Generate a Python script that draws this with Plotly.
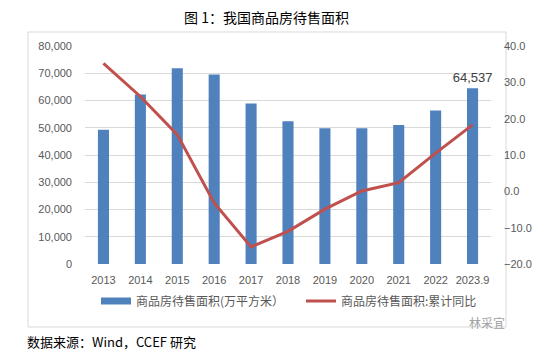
import plotly.graph_objects as go

years = ["2013", "2014", "2015", "2016", "2017", "2018", "2019", "2020", "2021", "2022", "2023.9"]
area = [49295, 62169, 71853, 69539, 58923, 52414, 49821, 49850, 51023, 56366, 64537]
yoy = [35.2, 26.1, 15.6, -3.2, -15.3, -11.0, -4.9, 0.1, 2.4, 10.5, 18.3]

# page body has an 8px margin; work in target (screen) pixels and shift
OFF = 8
W, H = 558 - 2 * OFF, 361 - 2 * OFF
PL, PR, PT, PB = 85, 491, 46, 264  # plot area in screen pixels
L, T = PL - OFF, PT - OFF
R, B = W - (PR - OFF), H - (PB - OFF)
pw, ph = PR - PL, PB - PT

def px(x):
    return (x - PL) / pw

def py(y):
    return (PB - y) / ph

def cx(x):
    return (x - OFF) / W

def cy(y):
    return 1 - (y - OFF) / H

FONT = "Noto Sans CJK SC, Noto Sans, sans-serif"
TICK = dict(family="Liberation Sans, Arial, sans-serif", size=11, color="#595959")

bar_text = ["" for _ in area[:-1]] + [f"{area[-1]:,}"]

fig = go.Figure()
fig.add_trace(go.Bar(
    x=years, y=area, name="商品房待售面积(万平方米）", showlegend=False,
    marker=dict(color="#4F81BD", line=dict(width=0)),
    text=bar_text, textposition="outside", cliponaxis=False, constraintext="none",
    textfont=dict(family="Liberation Sans, Arial, sans-serif", size=13, color="#404040"),
))
fig.add_trace(go.Scatter(
    x=[None], y=[None], name="商品房待售面积(万平方米）",
    mode="lines", line=dict(color="#4F81BD", width=7),
))
fig.add_trace(go.Scatter(
    x=years, y=yoy, name="商品房待售面积:累计同比", yaxis="y2",
    mode="lines", line=dict(color="#C0504D", width=3),
))

fig.update_layout(
    width=W, height=H,
    margin=dict(l=L, r=R, t=T, b=B, pad=0, autoexpand=False),
    paper_bgcolor="white", plot_bgcolor="white",
    bargap=0.7,
    showlegend=True,
    legend=dict(orientation="h", xref="container", yref="container",
                x=cx(96), xanchor="left", y=cy(301), yanchor="middle",
                font=dict(family=FONT, size=12, color="#595959"),
                entrywidth=160, itemwidth=30, bgcolor="rgba(0,0,0,0)", tracegroupgap=0),
    xaxis=dict(type="category", showgrid=False, showline=False, ticks="",
               tickfont=TICK, ticklabelstandoff=8),
    yaxis=dict(range=[0, 80000], dtick=10000, tickformat=",d", showgrid=True,
               gridcolor="#D9D9D9", gridwidth=1, zeroline=False, showline=False,
               tickfont=TICK, ticklabelstandoff=12),
    yaxis2=dict(range=[-20, 40], dtick=10, tickformat=".1f", overlaying="y", side="right",
                showgrid=False, zeroline=False, showline=False,
                tickfont=TICK, ticklabelstandoff=12),
    font=dict(family=FONT),
)

fig.add_shape(type="rect", xref="paper", yref="paper",
              x0=px(28), x1=px(506), y0=py(327), y1=py(32),
              line=dict(color="#D9D9D9", width=1), layer="below")

fig.add_annotation(text="图 1：我国商品房待售面积", xref="paper", yref="paper",
                   x=px(266), y=py(17), xanchor="center", yanchor="middle",
                   showarrow=False, font=dict(family=FONT, size=14, color="#000000"))
fig.add_annotation(text="数据来源：Wind，CCEF 研究", xref="paper", yref="paper",
                   x=px(25), y=py(341), xanchor="left", yanchor="middle",
                   showarrow=False, font=dict(family=FONT, size=13, color="#000000"))
fig.add_annotation(text="林采宜", xref="paper", yref="paper",
                   x=px(507), y=py(322), xanchor="right", yanchor="middle",
                   showarrow=False, font=dict(family=FONT, size=12, color="#A0A0A0"))

fig.write_html("out.html")
